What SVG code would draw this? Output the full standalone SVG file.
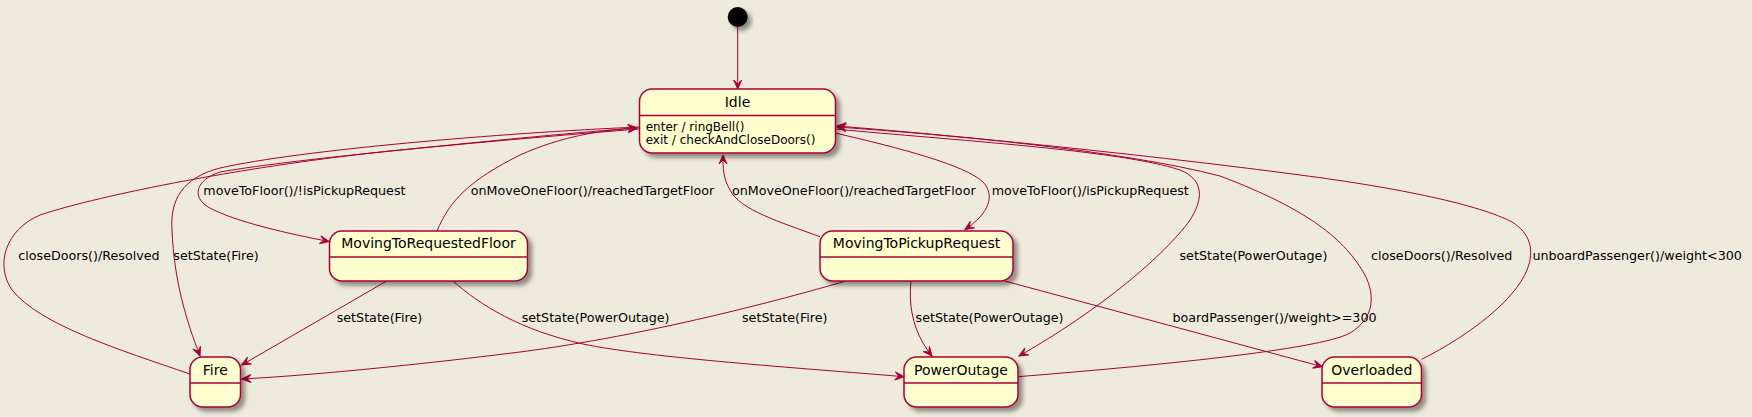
<svg xmlns="http://www.w3.org/2000/svg" width="1752" height="417" viewBox="0 0 1752 417">
<style>
.st{fill:#FEFECE;stroke:#A80036;stroke-width:1.5;filter:url(#sh)}
.sep{stroke:#A80036;stroke-width:1.5}
.nm{font-family:"DejaVu Sans",sans-serif;font-size:14px;fill:#000;text-anchor:middle}
.at{font-family:"DejaVu Sans",sans-serif;font-size:12px;fill:#000}
.lb{font-family:"DejaVu Sans",sans-serif;font-size:12.7px;fill:#000}
.e{fill:none;stroke:#A80036;stroke-width:1;marker-end:url(#ah)}
.n{fill:none;stroke:#A80036;stroke-width:1}
</style>
<defs>
<filter id="sh" x="-20%" y="-20%" width="150%" height="160%">
<feGaussianBlur in="SourceAlpha" stdDeviation="2"/>
<feColorMatrix type="matrix" values="0 0 0 0 0 0 0 0 0 0 0 0 0 0 0 0 0 0 .4 0" result="b"/>
<feOffset dx="4" dy="4" result="o"/>
<feMerge><feMergeNode in="o"/><feMergeNode in="SourceGraphic"/></feMerge>
</filter>
<marker id="ah" markerWidth="12" markerHeight="10" refX="10" refY="5" orient="auto" markerUnits="userSpaceOnUse" viewBox="0 0 12 10">
<path d="M10,5 L1,1 L5,5 L1,9 Z" fill="#A80036" stroke="#A80036" stroke-width="1"/>
</marker>
</defs>
<rect width="1752" height="417" fill="#EEEBDC"/>

<g id="connectors">
<path class="e" d="M737.7,27 L737.7,89"/>
<path class="e" d="M190,374 C120,350 40,325 12,290 C-5,265 5,230 40,215 C100,195 250,165 400,150 C500,140 580,132 637,128"/>
<path class="e" d="M639,127 C500,133 300,150 220,168 C182,178 170,200 172,230 C174,280 186,320 200,356"/>
<path class="e" d="M639,129 C500,140 300,158 220,172 C195,180 192,197 208,207 C235,222 290,234 329,241.5"/>
<path class="e" d="M437,231 C450,200 470,180 520,155 C560,137 600,130 637,128"/>
<path class="e" d="M820,236.7 C780,222 740,210 730,190 C723,178 723,168 723,155"/>
<path class="e" d="M835,133 C900,148 965,165 983,182 C995,195 990,213 965,229.5"/>
<path class="e" d="M835,129 C950,140 1120,150 1180,170 C1205,180 1203,200 1190,220 C1165,255 1100,310 1019,356"/>
<path class="e" d="M1018,376.7 C1150,366 1320,350 1350,333 C1375,318 1375,295 1365,275 C1345,240 1310,210 1220,176 C1120,150 950,135 837,127"/>
<path class="e" d="M1421.7,359.3 C1470,335 1515,300 1527,270 C1535,250 1530,233 1512,222 C1480,205 1400,188 1300,175 C1150,155 950,135 837,126"/>
<path class="e" d="M386.7,281 L241.7,365"/>
<path class="e" d="M846,281 C780,300 650,335 520,352 C400,367 300,376 242,379"/>
<path class="e" d="M453,281 C480,305 520,330 583,344 C650,358 800,368 904,376.7"/>
<path class="e" d="M911,281 C908,310 915,335 932,356"/>
<path class="e" d="M1004.7,281 L1322.3,366.7"/>
<text class="lb" x="18.3" y="260">closeDoors()/Resolved</text>
<text class="lb" x="173.3" y="260">setState(Fire)</text>
<text class="lb" x="203.3" y="195">moveToFloor()/!isPickupRequest</text>
<text class="lb" x="470.7" y="195">onMoveOneFloor()/reachedTargetFloor</text>
<text class="lb" x="732" y="195">onMoveOneFloor()/reachedTargetFloor</text>
<text class="lb" x="991.7" y="195">moveToFloor()/isPickupRequest</text>
<text class="lb" x="1179.5" y="259.5">setState(PowerOutage)</text>
<text class="lb" x="1371" y="259.5">closeDoors()/Resolved</text>
<text class="lb" x="1532.4" y="259.5">unboardPassenger()/weight&lt;300</text>
<text class="lb" x="336.7" y="321.7">setState(Fire)</text>
<text class="lb" x="521.7" y="321.7">setState(PowerOutage)</text>
<text class="lb" x="742" y="321.7">setState(Fire)</text>
<text class="lb" x="915.6" y="321.7">setState(PowerOutage)</text>
<text class="lb" x="1172.5" y="321.7">boardPassenger()/weight&gt;=300</text>
</g>

<g id="initial">
<circle cx="737.7" cy="17" r="10" fill="#000" stroke="none" filter="url(#sh)"/>
</g>
<g id="Idle">
<rect class="st" x="639.5" y="89" width="196" height="64" rx="12.5" ry="12.5"/>
<line class="sep" x1="639.5" y1="115.5" x2="835.5" y2="115.5"/>
<text class="nm" x="737.5" y="106.5">Idle</text>
<text class="at" x="645.7" y="130.5">enter / ringBell()</text>
<text class="at" x="645.7" y="144.3">exit / checkAndCloseDoors()</text>
</g>
<g id="MovingToRequestedFloor">
<rect class="st" x="329.5" y="231" width="198" height="50" rx="12.5" ry="12.5"/>
<line class="sep" x1="329.5" y1="257" x2="527.5" y2="257"/>
<text class="nm" x="428.5" y="247.5">MovingToRequestedFloor</text>
</g>
<g id="MovingToPickupRequest">
<rect class="st" x="820" y="231" width="193" height="50" rx="12.5" ry="12.5"/>
<line class="sep" x1="820" y1="257" x2="1013" y2="257"/>
<text class="nm" x="916.5" y="247.5">MovingToPickupRequest</text>
</g>
<g id="Fire">
<rect class="st" x="190" y="357" width="50.5" height="50" rx="12.5" ry="12.5"/>
<line class="sep" x1="190" y1="383" x2="240.5" y2="383"/>
<text class="nm" x="215.3" y="375">Fire</text>
</g>
<g id="PowerOutage">
<rect class="st" x="904" y="357" width="114" height="50" rx="12.5" ry="12.5"/>
<line class="sep" x1="904" y1="383" x2="1018" y2="383"/>
<text class="nm" x="961" y="375">PowerOutage</text>
</g>
<g id="Overloaded">
<rect class="st" x="1322" y="357" width="99.5" height="50" rx="12.5" ry="12.5"/>
<line class="sep" x1="1322" y1="383" x2="1421.5" y2="383"/>
<text class="nm" x="1371.8" y="375">Overloaded</text>
</g>
</svg>
